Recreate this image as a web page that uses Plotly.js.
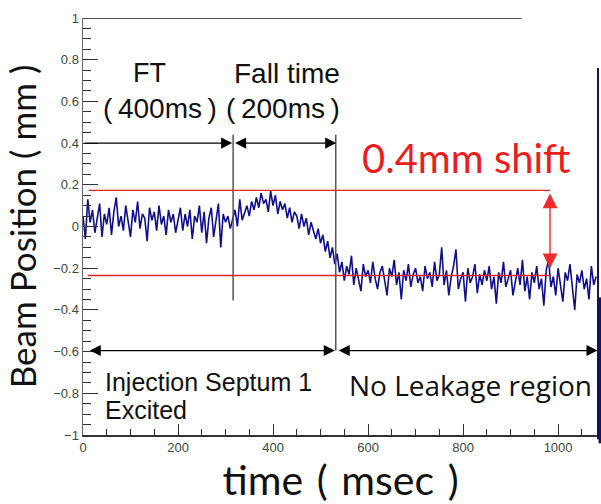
<!DOCTYPE html>
<html>
<head>
<meta charset="utf-8">
<script src="https://cdn.plot.ly/plotly-3.0.1.min.js"></script>
<style>
html,body{margin:0;padding:0;background:#fff;}
#chart{width:601px;height:504px;}
</style>
</head>
<body>
<div id="chart"></div>
<script>
// Beam position samples (mm), one every 5 ms starting at 0 ms
const timeStart = 0;
const timeStep = 5;
const beamPosition = [
  0.05, -0.06, 0.13, 0.02, 0.08, -0.03, 0.04, 0.11, -0.05, 0.06,
  0.01, 0.09, -0.04, 0.07, 0.14, 0.0, 0.05, -0.02, 0.1, 0.03,
  -0.05, 0.08, 0.02, 0.12, -0.01, 0.06, 0.04, -0.07, 0.09, 0.03,
  0.07, -0.02, 0.1, 0.01, 0.05, -0.04, 0.08, 0.02, 0.06, -0.03,
  0.04, 0.09, -0.02, 0.06, 0.0, 0.08, -0.06, 0.05, 0.02, 0.1,
  -0.03, 0.07, -0.08, 0.04, 0.09, -0.05, 0.03, 0.11, -0.1, 0.06,
  0.02, 0.05, -0.01, 0.04, 0.08, 0.0, 0.13, 0.03, 0.07, 0.1,
  0.05, 0.12, 0.08, 0.14, 0.09, 0.16, 0.11, 0.13, 0.07, 0.17,
  0.1, 0.15, 0.06, 0.12, 0.08, 0.11, 0.04, 0.09, 0.02, 0.07,
  0.05, -0.01, 0.06, 0.0, 0.04, -0.04, 0.02, -0.02, -0.06, -0.01,
  -0.08, -0.04, -0.12, -0.07, -0.15, -0.1, -0.18, -0.13, -0.22, -0.17,
  -0.26, -0.19, -0.23, -0.14, -0.28, -0.2, -0.25, -0.31, -0.18, -0.24,
  -0.21, -0.27, -0.17, -0.25, -0.3, -0.22, -0.19, -0.26, -0.33, -0.2,
  -0.24, -0.16, -0.28, -0.22, -0.35, -0.21, -0.26, -0.18, -0.29, -0.23,
  -0.2, -0.27, -0.24, -0.31, -0.19, -0.25, -0.22, -0.29, -0.17, -0.26,
  -0.23, -0.1, -0.28, -0.21, -0.33, -0.24, -0.19, -0.11, -0.3, -0.25,
  -0.22, -0.36, -0.2, -0.27, -0.24, -0.18, -0.32, -0.23, -0.28, -0.21,
  -0.26, -0.19, -0.3, -0.24, -0.37, -0.22, -0.27, -0.17, -0.29, -0.25,
  -0.21, -0.33, -0.26, -0.2, -0.28, -0.16, -0.31, -0.24, -0.35, -0.22,
  -0.27, -0.19, -0.3, -0.25, -0.38, -0.21, -0.16, -0.29, -0.24, -0.33,
  -0.2, -0.28, -0.36, -0.22, -0.26, -0.18, -0.31, -0.4, -0.23, -0.27,
  -0.21, -0.3, -0.25, -0.35, -0.19, -0.28, -0.24
];

// Reference levels and region boundaries
const upperLevel = 0.173;
const lowerLevel = -0.235;
const ftEnd = 316;
const fallEnd = 532;

const labelFont = 'Liberation Sans, Arial, sans-serif';
const sp = '\u2004';
const trace = {
  type: 'scatter',
  mode: 'lines',
  x0: timeStart,
  dx: timeStep,
  y: beamPosition,
  line: {color: '#10108a', width: 1.6},
  hoverinfo: 'skip',
  showlegend: false
};

const arrowBase = {text: '', showarrow: true, xref: 'x', yref: 'y', axref: 'x', ayref: 'y',
  arrowhead: 2, arrowsize: 1.7, arrowwidth: 1.3, arrowcolor: '#000', standoff: 0, startstandoff: 0};

const layout = {
  width: 601, height: 504,
  margin: {l: 83, r: 3, t: 18, b: 69},
  paper_bgcolor: '#fff', plot_bgcolor: '#fff',
  showlegend: false,
  xaxis: {
    range: [0, 1084], dtick: 200, tick0: 0,
    ticks: 'inside', ticklen: 11, tickwidth: 1, tickcolor: '#333',
    minor: {dtick: 50, ticks: 'inside', ticklen: 6, tickcolor: '#333'},
    showline: true, linecolor: '#333', linewidth: 1.5,
    showgrid: false, zeroline: false,
    tickfont: {family: labelFont, size: 13, color: '#3a4a3a'},
    title: {text: 'time' + sp + '(' + sp + 'msec' + sp + ')', font: {family: 'Lato, sans-serif', size: 41, color: '#111'}, standoff: 17}
  },
  yaxis: {
    range: [-1, 1], dtick: 0.2, tick0: 0,
    ticks: 'inside', ticklen: 15, tickwidth: 1, tickcolor: '#333',
    minor: {dtick: 0.05, ticks: 'inside', ticklen: 8, tickcolor: '#333'},
    showline: true, linecolor: '#666', linewidth: 1.5,
    showgrid: false, zeroline: false,
    tickfont: {family: labelFont, size: 13, color: '#3a4a3a'},
    title: {text: 'Beam Position ( mm )', font: {family: 'Lato, sans-serif', size: 35, color: '#111'}, standoff: 6}
  },
  shapes: [
    {type: 'line', xref: 'x', yref: 'y', x0: 0, x1: 923, y0: 1, y1: 1, line: {color: '#111', width: 1.5}},
    {type: 'line', xref: 'x', yref: 'y', x0: ftEnd, x1: ftEnd, y0: 0.44, y1: -0.355, line: {color: '#555', width: 1.5}},
    {type: 'line', xref: 'x', yref: 'y', x0: fallEnd, x1: fallEnd, y0: 0.44, y1: -0.595, line: {color: '#555', width: 1.5}},
    {type: 'line', xref: 'x', yref: 'y', x0: 12, x1: 983, y0: upperLevel, y1: upperLevel, line: {color: '#d82828', width: 1.3}},
    {type: 'line', xref: 'x', yref: 'y', x0: 10, x1: 983, y0: lowerLevel, y1: lowerLevel, line: {color: '#d82828', width: 1.3}},
    {type: 'line', xref: 'paper', yref: 'paper', x0: 1.0, x1: 1.0, y0: 0.88, y1: -0.01, line: {color: '#141460', width: 2}},
    {type: 'line', xref: 'paper', yref: 'paper', x0: 1.004, x1: 1.004, y0: 0.33, y1: -0.02, line: {color: '#141460', width: 3}}
  ],
  annotations: [
    Object.assign({}, arrowBase, {x: ftEnd - 2, y: 0.4, ax: 0, ay: 0.4}),
    Object.assign({}, arrowBase, {x: fallEnd + 1, y: 0.4, ax: ftEnd + 1, ay: 0.4, arrowside: 'end+start'}),
    Object.assign({}, arrowBase, {x: fallEnd - 2, y: -0.595, ax: 11, ay: -0.595, arrowside: 'end+start'}),
    Object.assign({}, arrowBase, {x: 1083, y: -0.595, ax: fallEnd + 3, ay: -0.595, arrowside: 'end+start'}),
    Object.assign({}, arrowBase, {x: 983, y: -0.2, ax: 983, ay: 0.165, arrowside: 'end+start', arrowcolor: '#ee2a2a', arrowwidth: 1.4, arrowsize: 2.1}),
    {text: 'FT', x: 141, y: 0.736, xref: 'x', yref: 'y', showarrow: false, font: {family: labelFont, size: 27, color: '#111'}},
    {text: '(\u2009400ms\u2009)', x: 162, y: 0.568, xref: 'x', yref: 'y', showarrow: false, font: {family: labelFont, size: 28, color: '#111'}},
    {text: 'Fall time', x: 429, y: 0.736, xref: 'x', yref: 'y', showarrow: false, font: {family: labelFont, size: 28, color: '#111'}},
    {text: '(\u2009200ms\u2009)', x: 422, y: 0.568, xref: 'x', yref: 'y', showarrow: false, font: {family: labelFont, size: 28, color: '#111'}},
    {text: '0.4mm shift', x: 808, y: 0.33, xref: 'x', yref: 'y', showarrow: false, font: {family: 'Lato, sans-serif', size: 40, color: '#ee1c1c'}},
    {text: 'Injection Septum 1', x: 42, y: -0.748, xref: 'x', yref: 'y', xanchor: 'left', showarrow: false, font: {family: labelFont, size: 25, color: '#111'}},
    {text: 'Excited', x: 42, y: -0.882, xref: 'x', yref: 'y', xanchor: 'left', showarrow: false, font: {family: labelFont, size: 25, color: '#111'}},
    {text: 'No Leakage region', x: 815, y: -0.762, xref: 'x', yref: 'y', showarrow: false, font: {family: 'Open Sans, sans-serif', size: 28, color: '#111'}}
  ]
};

Plotly.newPlot('chart', [trace], layout, {staticPlot: true, displayModeBar: false});
</script>
</body>
</html>
